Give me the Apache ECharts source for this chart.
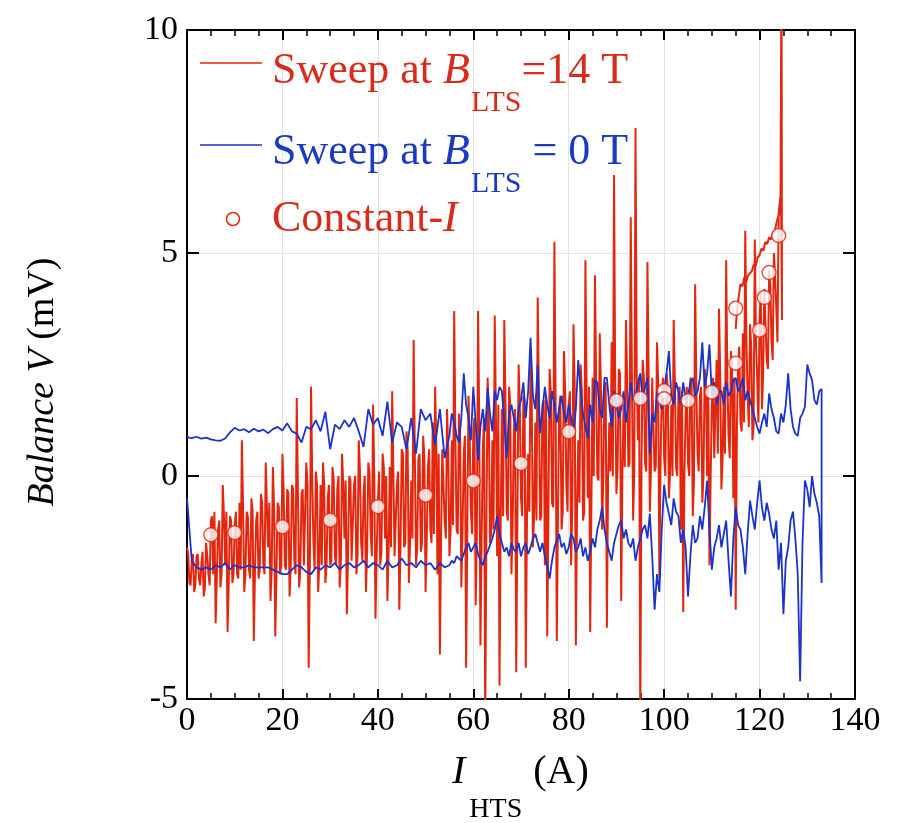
<!DOCTYPE html>
<html><head><meta charset="utf-8">
<script src="https://cdn.jsdelivr.net/npm/echarts@6/dist/echarts.min.js"></script>
<style>html,body{margin:0;padding:0;background:#fff}#c{width:900px;height:823px}</style>
</head><body><div id="c"></div>
<script>
// ---- tick labels ----
const xTicks = [0, 20, 40, 60, 80, 100, 120, 140];
const yTicks = [-5, 0, 5, 10];

// ---- Sweep at B_LTS = 14 T (red), sampled every 0.25 A from 0 A ----
const redStart = 0, redStep = 0.25;
const redSweep14T = [
  -1.6, -1.75, -2.4, -2.45, -1.9, -1.75, -2.6, -2.45, -1.8, -1.75, -2.3, -2.45, -2.0, -1.7, -2.7, -2.5, -1.5, -1.8, -2.2, -2.45,
  -1.0, -0.9, -2.2, -0.8, -3.3, -2.3, -1.2, -1.0, -2.5, -2.2, -0.2, -0.9, -2.0, -0.8, -3.5, -2.4, -0.9, -1.0, -2.4, -2.2,
  -1.1, -0.8, -2.2, -2.3, -0.6, -2.1, 0.8, -0.7, -2.6, -2.2, -0.8, -0.9, -2.1, -2.3, -0.5, -0.8, -3.7, -2.1, -1.0, -0.8,
  -2.3, -2.1, -0.4, -0.6, -2.0, -2.2, 0.3, -0.7, -1.6, -0.6, -2.8, -2.1, 0.2, -0.7, -3.6, -2.2, -0.6, -0.7, -2.2, -2.0,
  0.5, -0.3, -2.0, -2.1, -0.3, -0.4, -2.7, -2.0, -0.2, -0.3, -1.9, -2.2, 1.75, -0.4, -2.5, -2.1, -0.4, -0.3, -2.0, -2.0,
  0.3, -0.2, -4.3, -2.0, 2.0, -0.1, -1.5, -2.1, 0.1, -0.2, -2.6, -1.9, -0.2, -2.0, 0.3, -0.2, -2.4, -2.0, -0.5, -0.2,
  -2.0, -1.9, 0.2, -0.1, -1.8, -2.0, -0.3, 0.0, -2.5, -1.9, 0.5, -0.2, -1.4, -0.1, -3.1, -1.8, 0.0, -0.1, -1.9, -1.9,
  -0.2, 0.0, -2.2, -1.8, 0.8, 0.1, -1.5, -1.9, -0.4, 0.0, -2.6, -1.7, 0.3, 0.1, -1.3, -1.8, 1.6, 0.0, -3.2, -1.8,
  -0.6, 0.1, -2.0, -1.7, 0.5, 0.2, -1.4, 0.0, -2.8, -1.7, 0.2, -1.6, 1.9, 0.1, -1.8, -1.8, -0.2, 0.1, -3.0, -1.6,
  0.6, 0.5, -1.6, -1.5, 1.0, 0.6, -2.4, -1.5, -0.1, -1.4, 3.05, 0.5, -2.0, -1.6, 0.4, 0.5, -1.7, -1.5, 0.9, 0.4,
  -2.6, -1.4, 0.2, 0.6, -1.2, -1.5, 1.2, -1.3, 2.0, 0.7, -2.2, 0.5, -4.0, -1.4, 0.6, 0.6, -1.0, -1.4, 1.5, 0.6,
  -1.8, -1.2, 0.8, -1.1, 3.7, 0.9, -1.2, -1.3, 1.4, 0.8, -2.5, -1.2, 0.5, 0.9, -4.3, -1.2, 1.8, 0.8, -0.8, -1.3,
  1.0, 1.3, -2.9, -1.3, 3.7, 1.2, -3.8, -1.4, 0.6, 1.3, -5.6, -1.2, 2.2, 1.4, -1.5, -1.3, 0.8, -1.2, 3.6, 1.3,
  -1.8, 1.6, -4.7, -1.0, 1.5, -0.9, 3.5, 1.7, -0.8, -1.0, 2.0, 1.6, -2.2, -1.1, 1.0, 1.5, -4.4, -1.0, 2.5, 1.6,
  -0.5, -0.9, 1.8, 1.7, -4.3, -1.0, 0.5, -0.8, 2.6, 1.7, -1.6, -0.9, 1.2, -1.0, 4.0, 1.8, -1.0, -0.9, 1.6, 1.7,
  -2.0, 1.8, -3.6, -0.8, 2.4, 1.9, -0.6, -0.7, 5.25, 1.8, -3.7, -0.9, 1.5, 1.8, -1.2, -0.8, 2.8, 1.9, -0.2, -0.8,
  1.6, 1.9, -2.0, -0.7, 3.4, 2.0, -3.8, -0.7, 0.8, -0.6, 2.5, 1.9, -1.0, -0.8, 4.84, 1.9, -0.5, 2.0, -3.5, -0.7,
  2.2, 0.0, 4.5, 2.1, 0.0, -0.1, 3.2, 2.0, -1.2, 0.0, 2.0, 2.1, -3.4, -0.1, 1.2, 0.1, 3.0, 0.0, 6.75, 2.0,
  -0.4, 0.2, 2.4, 2.3, -2.8, 0.1, 1.6, 0.2, 3.5, 2.2, 0.2, 0.3, 5.8, 2.2, -1.0, 0.2, 7.8, 2.3, 0.8, 2.2,
  -5.6, 0.2, 2.6, 2.2, 0.3, 0.1, 4.8, 2.3, -0.8, 0.2, 2.2, 2.2, 0.1, 0.2, 3.0, 2.1, -2.3, 0.3, 1.8, 2.2,
  0.4, 0.0, 2.3, 2.0, -0.5, 0.1, 1.6, 0.0, 3.5, 2.1, 0.2, 0.0, 1.9, 2.0, -1.2, 1.9, -3.05, 0.0, 1.4, 2.0,
  0.3, 0.0, 2.2, 2.1, -0.9, -0.1, 4.3, 2.0, 0.5, 0.1, 1.8, 2.0, -0.6, 0.0, 2.4, 2.1, 0.0, 2.0, -2.0, 0.0,
  1.6, 2.2, 0.4, 0.4, 2.6, 0.5, 3.75, 2.3, -0.3, 0.4, 2.0, 0.5, 4.84, 2.2, 0.9, 0.4, 2.8, 2.3, -0.5, 2.2,
  -3.0, 1.1, 2.5, 2.9, 1.2, 1.0, 3.2, 1.2, 5.5, 3.0, 1.8, 1.1, 3.4, 2.9, 0.8, 1.1, 5.3, 3.0, 2.2, 1.2,
  3.5, 4.1, 1.5, 2.3, 4.2, 4.2, 2.6, 2.4, 4.6, 4.3, 3.0, 2.6, 5.0, 4.5, 3.8, 3.0, 5.9
];
// quench spike and returning branch of the 14 T sweep
const redBranchX = [124.0, 124.4, 124.6, 124.7, 124.5, 124.3, 124.0, 123.6, 123.2, 122.8, 122.4, 122.0, 121.6, 121.2, 120.8, 120.4, 120.0, 119.6, 119.2, 118.8, 118.4, 118.0, 117.6, 117.2, 116.8, 116.4, 116.0, 115.6, 115.3, 115.0];
const redBranchV = [5.9, 6.3, 12.0, 3.5, 6.2, 5.9, 5.85, 5.7, 5.5, 5.45, 5.3, 5.35, 5.2, 5.25, 5.05, 5.1, 4.95, 4.9, 4.7, 4.75, 4.6, 4.55, 4.5, 4.35, 4.45, 4.25, 4.3, 4.0, 3.76, 3.3];

// ---- Sweep at B_LTS = 0 T (blue): upper branch out, lower branch back ----
// part A: 0..54 A every 1 A ; part B: 55..133 A every 0.5 A
const blueAStart = 0, blueAStep = 1;
const blueBStart = 55, blueBStep = 0.5;
const blueUpperA = [
  0.87, 0.85, 0.88, 0.84, 0.86, 0.82, 0.80, 0.79, 0.84, 0.98,
  1.08, 1.02, 1.05, 0.98, 1.06, 1.00, 1.04, 0.96, 1.05, 1.10,
  1.02, 1.18, 1.00, 0.95, 0.75, 1.10, 1.05, 1.25, 1.00, 1.44,
  0.60, 1.15, 1.05, 1.25, 1.10, 1.30, 1.00, 0.65, 1.50, 1.15,
  1.30, 0.90, 1.67, 0.75, 1.20, 1.10, 0.60, 1.30, 0.50, 1.50,
  1.25, 1.40, 0.70, 1.50, 0.40
];
const blueUpperB = [
  0.90, 1.4, 1.20, 0.9, 0.75, 1.3, 2.30, 1.6, 1.30, 0.8,
  2.00, 1.2, 0.35, 1.1, 1.50, 1.0, 1.97, 1.4, 1.00, 1.9,
  1.70, 2.0, 1.90, 1.2, 0.40, 1.4, 1.60, 1.3, 1.00, 1.5,
  1.70, 2.1, 1.30, 1.9, 3.10, 1.8, 1.50, 2.5, 0.96, 1.5,
  2.00, 1.6, 1.30, 1.9, 1.60, 1.2, 1.50, 1.8, 1.40, 1.2,
  1.60, 1.3, 1.00, 1.5, 2.60, 1.9, 1.40, 1.1, 0.85, 1.6,
  1.20, 2.15, 2.10, 1.5, 1.30, 2.2, 2.20, 1.6, 1.10, 1.9,
  1.60, 1.3, 1.50, 1.9, 1.20, 1.6, 2.10, 1.7, 1.80, 2.1,
  2.30, 1.7, 2.00, 2.2, 0.50, 1.4, 1.20, 1.9, 1.70, 1.5,
  1.95, 2.3, 2.80, 1.8, 1.60, 2.1, 1.90, 1.6, 2.10, 1.7,
  1.80, 2.1, 2.20, 1.8, 1.90, 2.2, 3.00, 2.0, 2.30, 2.95,
  1.80, 2.1, 1.60, 1.9, 1.90, 1.6, 2.10, 1.8, 1.90, 2.15,
  2.20, 1.9, 2.00, 2.2, 1.70, 1.9, 1.70, 1.5, 1.30, 1.1,
  0.95, 1.2, 1.40, 1.1, 1.85, 1.5, 1.30, 1.0, 0.95, 1.4,
  1.20, 1.6, 2.30, 1.5, 1.10, 0.95, 0.90, 1.3, 1.40, 1.55,
  2.50, 2.3, 2.15, 1.7, 1.60, 1.9, 1.95
];
const blueLowerA = [
  -0.50, -1.90, -2.05, -2.10, -2.05, -2.10, -2.00, -2.05, -1.95, -2.10,
  -2.00, -2.05, -2.05, -2.00, -2.05, -2.05, -2.05, -2.05, -2.10, -2.15,
  -2.20, -2.20, -2.10, -2.00, -2.05, -2.15, -2.20, -2.05, -2.10, -2.00,
  -2.05, -1.95, -2.10, -2.00, -1.95, -2.05, -2.00, -1.90, -2.05, -1.95,
  -2.00, -2.10, -1.90, -2.05, -2.00, -1.85, -2.00, -1.95, -2.05, -1.90,
  -2.00, -1.95, -2.10, -1.95, -2.05
];
const blueLowerB = [
  -2.00, -1.9, -1.95, -1.8, -1.85, -1.9, -1.75, -1.6, -1.50, -1.7,
  -1.60, -1.5, -1.75, -1.9, -2.00, -1.8, -1.70, -1.55, -1.40, -1.2,
  -0.90, -1.3, -1.50, -1.7, -1.60, -1.8, -1.50, -1.65, -1.70, -1.5,
  -1.80, -1.6, -1.50, -1.75, -1.60, -1.4, -1.30, -1.5, -1.70, -1.5,
  -1.80, -2.0, -2.30, -1.9, -1.60, -1.45, -1.30, -1.6, -1.50, -1.75,
  -1.60, -1.3, -1.40, -1.7, -1.60, -1.4, -1.80, -1.6, -1.90, -1.7,
  -1.40, -1.6, -1.20, -1.0, -0.70, -1.2, -1.50, -1.7, -1.90, -1.5,
  -1.30, -1.1, -1.00, -1.4, -1.20, -1.5, -1.60, -1.4, -1.90, -1.6,
  -1.40, -1.2, -1.10, -1.4, -0.84, -1.8, -3.00, -2.2, -2.60, -1.2,
  -0.20, -0.6, -0.85, -1.1, -0.50, -0.8, -0.90, -1.5, -1.20, -1.6,
  -2.70, -1.8, -1.10, -1.5, -1.40, -0.9, -1.20, -0.7, -0.10, -1.2,
  -2.10, -1.6, -1.40, -1.1, -1.60, -1.3, -1.00, -1.9, -2.70, -1.4,
  -0.70, -1.1, -1.20, -1.6, -2.20, -1.3, -0.55, -0.9, -1.20, -0.6,
  -0.10, -0.7, -1.00, -0.6, -0.85, -1.2, -1.40, -1.0, -2.10, -1.5,
  -3.10, -1.9, -1.60, -1.0, -0.80, -1.4, -2.20, -4.60, -1.5, -0.1,
  -0.30, -0.7, 0.00, -0.4, -0.60, -0.9, -2.40
];

// ---- Constant-I measurements ----
const constIX = [5, 10, 20, 30, 40, 50, 60, 70, 80, 90, 95, 100, 100, 105, 110, 115, 115, 120, 121, 122, 124];
const constIV = [-1.32, -1.27, -1.14, -0.99, -0.69, -0.43, -0.11, 0.28, 0.99, 1.69, 1.74, 1.91, 1.73, 1.69, 1.88, 2.53, 3.76, 3.27, 4.0, 4.56, 5.39];

// ---- styles ----
const RED = '#e3270e', BLUE = '#1a33c9', RED_TXT = '#d72c1b', BLUE_TXT = '#1a3abf';
const SERIF = '"Liberation Serif","Times New Roman",serif';

const pts = (arr, start, step) => arr.map((v, i) => [start + i * step, v]);
const redData = pts(redSweep14T, redStart, redStep);
const redBranch = redBranchX.map((x, i) => [x, redBranchV[i]]);
const blueData = pts(blueUpperA, blueAStart, blueAStep)
  .concat(pts(blueUpperB, blueBStart, blueBStep))
  .concat(pts(blueLowerB, blueBStart, blueBStep).reverse())
  .concat(pts(blueLowerA, blueAStart, blueAStep).reverse());
const constData = constIX.map((x, i) => [x, constIV[i]]);

function xAxisCfg(pos, labels) {
  return {
    type: 'value', position: pos,
    min: xTicks[0], max: xTicks[xTicks.length - 1], interval: xTicks[1] - xTicks[0],
    axisLine: { show: true, onZero: false, lineStyle: { color: '#000', width: 2 } },
    axisTick: { show: true, inside: true, length: 10, lineStyle: { color: '#000', width: 2 } },
    minorTick: { show: true, splitNumber: 4, length: 6, lineStyle: { color: '#000', width: 1.5 } },
    splitLine: { show: labels, lineStyle: { color: '#e3e3e3', width: 1 } },
    axisLabel: { show: labels, fontFamily: SERIF, fontSize: 34, color: '#000', margin: 5 }
  };
}
function yAxisCfg(pos, labels) {
  return {
    type: 'value', position: pos,
    min: yTicks[0], max: yTicks[yTicks.length - 1], interval: yTicks[1] - yTicks[0],
    axisLine: { show: true, onZero: false, lineStyle: { color: '#000', width: 2 } },
    axisTick: { show: true, inside: true, length: 12, lineStyle: { color: '#000', width: 2 } },
    splitLine: { show: labels, lineStyle: { color: '#e3e3e3', width: 1 } },
    axisLabel: { show: labels, fontFamily: SERIF, fontSize: 34, color: '#000', margin: 9 }
  };
}

function legendRich(color) {
  return {
    n: { fontFamily: SERIF, fontSize: 44, fill: color },
    i: { fontFamily: SERIF, fontSize: 44, fontStyle: 'italic', fill: color },
    s: { fontFamily: SERIF, fontSize: 30, fill: color, padding: [64, 0, 0, 1] }
  };
}

const chart = echarts.init(document.getElementById('c'));
chart.setOption({
  animation: false,
  backgroundColor: '#fff',
  grid: { left: 187, right: 45, top: 30, bottom: 124 },
  xAxis: [xAxisCfg('bottom', true), xAxisCfg('top', false)],
  yAxis: [yAxisCfg('left', true), yAxisCfg('right', false)],
  series: [
    { name: 'Sweep at B_LTS=14 T', type: 'line', data: redData, showSymbol: false, clip: true,
      lineStyle: { color: RED, width: 2 }, itemStyle: { color: RED }, z: 2 },
    { name: 'Sweep at B_LTS=14 T', type: 'line', data: redBranch, showSymbol: false, clip: true,
      lineStyle: { color: RED, width: 2 }, itemStyle: { color: RED }, z: 2 },
    { name: 'Sweep at B_LTS = 0 T', type: 'line', data: blueData, showSymbol: false, clip: true,
      lineStyle: { color: BLUE, width: 1.8 }, itemStyle: { color: BLUE }, z: 3 },
    { name: 'Constant-I', type: 'scatter', data: constData, symbol: 'circle', symbolSize: 14,
      itemStyle: { color: '#fff', borderColor: RED, borderWidth: 1.5 }, z: 5 }
  ],
  graphic: [
    { type: 'line', shape: { x1: 200, y1: 63, x2: 262, y2: 63 }, style: { stroke: RED, lineWidth: 1.5 }, z: 10 },
    { type: 'line', shape: { x1: 200, y1: 145, x2: 262, y2: 145 }, style: { stroke: BLUE, lineWidth: 1.5 }, z: 10 },
    { type: 'circle', shape: { cx: 233, cy: 219, r: 6.5 }, style: { fill: '#fff', stroke: RED, lineWidth: 1.5 }, z: 10 },
    { type: 'text', x: 272, y: 71, z: 10,
      style: { text: '{n|Sweep at }{i|B}{s|LTS}{n|=14 T}', align: 'left', verticalAlign: 'middle', rich: legendRich(RED_TXT) } },
    { type: 'text', x: 272, y: 152, z: 10,
      style: { text: '{n|Sweep at }{i|B}{s|LTS}{n| = 0 T}', align: 'left', verticalAlign: 'middle', rich: legendRich(BLUE_TXT) } },
    { type: 'text', x: 272, y: 219, z: 10,
      style: { text: '{n|Constant-}{i|I}', align: 'left', verticalAlign: 'middle', rich: legendRich(RED_TXT) } },
    { type: 'text', x: 452, y: 772, z: 10,
      style: { text: '{i|I}{s|HTS}{n|(A)}', align: 'left', verticalAlign: 'middle',
        rich: {
          i: { fontFamily: SERIF, fontSize: 40, fontStyle: 'italic', fill: '#000' },
          s: { fontFamily: SERIF, fontSize: 28, fill: '#000', padding: [76, 0, 0, 4] },
          n: { fontFamily: SERIF, fontSize: 40, fill: '#000', padding: [0, 0, 0, 11] }
        } } },
    { type: 'text', x: 43, y: 382, rotation: Math.PI / 2, z: 10,
      style: { text: '{i|Balance V }{n|(mV)}', align: 'center', verticalAlign: 'middle',
        rich: {
          i: { fontFamily: SERIF, fontSize: 38, fontStyle: 'italic', fill: '#000' },
          n: { fontFamily: SERIF, fontSize: 38, fill: '#000' }
        } } }
  ]
});
</script>
</body></html>
